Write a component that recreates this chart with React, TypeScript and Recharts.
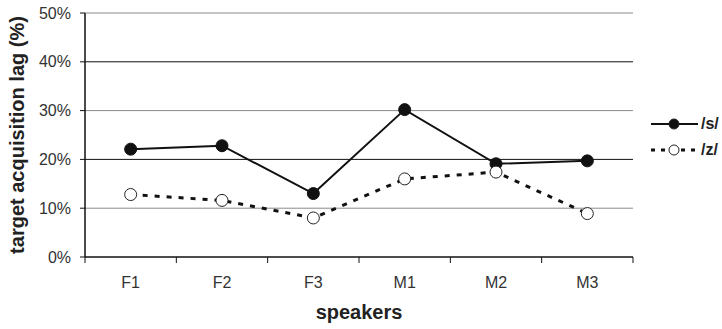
import { Label, Legend, Line, LineChart, ReferenceLine, XAxis, YAxis } from 'recharts';

const speakers = ['F1', 'F2', 'F3', 'M1', 'M2', 'M3'];
const sLag = [22.1, 22.8, 13.0, 30.2, 19.1, 19.7];
const zLag = [12.8, 11.6, 8.0, 16.0, 17.4, 8.9];
const yTicks = [0, 10, 20, 30, 40, 50];
const boundaryTicks = [0, 1, 2, 3, 4, 5, 6];

// each speaker sits in the middle of its slot on a 0..6 number axis
const data = speakers.map((name, i) => ({ name, s: sLag[i], z: zLag[i], pos: i + 0.5 }));
const xTicks = [...boundaryTicks, ...data.map((d) => d.pos)].sort((a, b) => a - b);

const font = '"Liberation Sans", Arial, sans-serif';

function OpenDot(props: { cx?: number; cy?: number }) {
  const { cx, cy } = props;
  if (cx == null || cy == null) return null;
  return <circle cx={cx} cy={cy} r={6} fill="#fff" stroke="#222" strokeWidth={1} />;
}

function SpeakerTick(props: any) {
  const { x, y, payload } = props;
  const v = payload?.value as number;
  if (Number.isInteger(v)) {
    return <line x1={x} y1={y} x2={x} y2={y + 6} stroke="#111" strokeWidth={1} />;
  }
  return (
    <text x={x} y={y + 31} textAnchor="middle" style={{ fontSize: 16, fill: '#333', fontFamily: font }}>
      {speakers[Math.floor(v)]}
    </text>
  );
}

function LegendBox() {
  const items = [
    { label: '/s/', dash: undefined as string | undefined, filled: true },
    { label: '/z/', dash: '4 6', filled: false },
  ];
  return (
    <div style={{ fontFamily: font }}>
      {items.map((it) => (
        <div key={it.label} style={{ display: 'flex', alignItems: 'center', height: 26 }}>
          <svg width={50} height={16}>
            <line
              x1={1}
              y1={8}
              x2={48}
              y2={8}
              stroke="#111"
              strokeWidth={it.filled ? 2 : 3}
              strokeDasharray={it.dash}
            />
            <circle cx={24} cy={8} r={5} fill={it.filled ? '#111' : '#fff'} stroke="#222" strokeWidth={1} />
          </svg>
          <span style={{ fontSize: 16, fontWeight: 'bold', color: '#222', marginLeft: 1 }}>{it.label}</span>
        </div>
      ))}
    </div>
  );
}

export default function App() {
  return (
    <div style={{ position: 'absolute', left: 0, top: 0 }}>
      <LineChart width={722} height={329} data={data} margin={{ top: 13, right: 15, bottom: 7, left: 25 }}>
        {yTicks
          .filter((v) => v > 0)
          .map((v) => (
            <ReferenceLine key={v} y={v} stroke={v % 20 === 0 ? '#111' : '#8a8a8a'} strokeWidth={1} />
          ))}
        <XAxis
          type="number"
          dataKey="pos"
          domain={[0, 6]}
          ticks={xTicks}
          interval={0}
          tick={<SpeakerTick />}
          tickLine={false}
          tickSize={0}
          tickMargin={0}
          height={65}
          axisLine={{ stroke: '#111', strokeWidth: 1.5 }}
        >
          <Label
            value="speakers"
            position="insideBottom"
            offset={3}
            style={{ fontSize: 20, fontWeight: 'bold', fill: '#222', fontFamily: font }}
          />
        </XAxis>
        <YAxis
          domain={[0, 50]}
          ticks={yTicks}
          width={60}
          tickFormatter={(v) => `${v}%`}
          tickSize={5}
          tickMargin={9}
          axisLine={{ stroke: '#111', strokeWidth: 1.5 }}
          tickLine={{ stroke: '#111' }}
          tick={{ fontSize: 16, fill: '#333', fontFamily: font }}
        >
          <Label
            content={(p: any) => {
              const vb = p.viewBox || {};
              const x = (vb.x ?? 25) - 8;
              const y = (vb.y ?? 13) + (vb.height ?? 244) / 2;
              return (
                <text
                  x={x}
                  y={y}
                  transform={`rotate(-90, ${x}, ${y})`}
                  textAnchor="middle"
                  dominantBaseline="central"
                  style={{ fontSize: 20, fontWeight: 'bold', fill: '#222', fontFamily: font }}
                >
                  target acquisition lag (%)
                </text>
              );
            }}
          />
        </YAxis>
        <Legend
          layout="vertical"
          verticalAlign="top"
          align="right"
          wrapperStyle={{ left: 650, top: 111, width: 74 }}
          content={() => <LegendBox />}
        />
        <Line
          dataKey="s"
          stroke="#111"
          strokeWidth={2}
          dot={{ r: 6, fill: '#111', stroke: '#111', strokeWidth: 1 }}
          activeDot={false}
          isAnimationActive={false}
        />
        <Line
          dataKey="z"
          stroke="#111"
          strokeWidth={3}
          strokeDasharray="5 7"
          dot={<OpenDot />}
          activeDot={false}
          isAnimationActive={false}
        />
      </LineChart>
    </div>
  );
}
